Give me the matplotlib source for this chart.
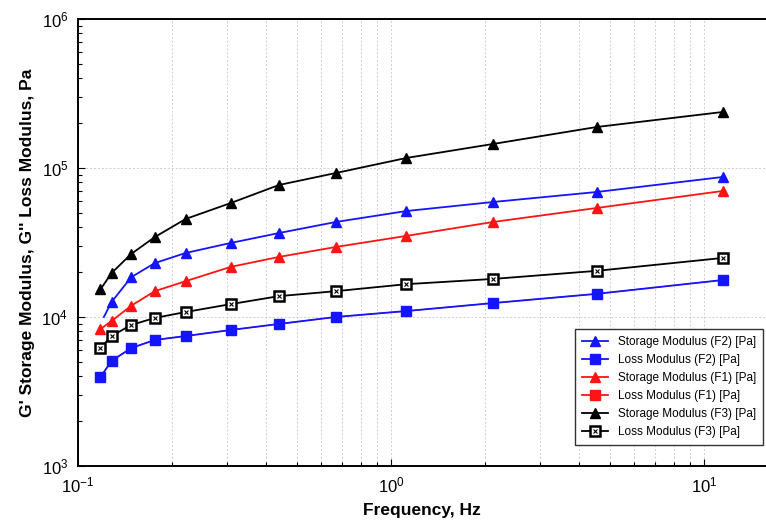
import numpy as np
import matplotlib.pyplot as plt
from matplotlib.ticker import LogLocator, NullFormatter
from matplotlib.legend_handler import HandlerTuple

plt.rcParams['font.family'] = ['Liberation Sans', 'DejaVu Sans']

# frequency points (Hz)
freq = [0.118, 0.128, 0.148, 0.176, 0.221, 0.308, 0.439, 0.667, 1.12, 2.12, 4.55, 11.5]

# F2 storage starts slightly later, first point has no marker
freq_f2_storage = [0.121, 0.128, 0.148, 0.176, 0.221, 0.308, 0.439, 0.667, 1.12, 2.12, 4.55, 11.5]
storage_f2 = [10000, 12600, 18500, 23000, 26900, 31400, 36600, 43400, 51400, 59100, 69000, 87000]
loss_f2    = [3950, 5070, 6190, 7010, 7450, 8180, 8980, 10000, 10960, 12400, 14300, 17700]
storage_f1 = [8300, 9400, 11900, 14900, 17400, 21700, 25300, 29500, 35000, 43400, 53900, 70100]
loss_f1    = [3950, 5070, 6190, 7010, 7450, 8180, 8980, 10000, 10960, 12400, 14300, 17700]
storage_f3 = [15300, 19700, 26500, 34400, 45500, 58200, 76900, 92500, 116700, 144900, 188400, 237600]
loss_f3    = [6190, 7450, 8840, 9850, 10800, 12200, 13800, 14900, 16600, 18000, 20400, 24900]

labels = ['Storage Modulus (F2) [Pa]', 'Loss Modulus (F2) [Pa]',
          'Storage Modulus (F1) [Pa]', 'Loss Modulus (F1) [Pa]',
          'Storage Modulus (F3) [Pa]', 'Loss Modulus (F3) [Pa]']

blue = '#1414ff'
red  = '#ff1414'

fig = plt.figure(figsize=(7.66, 5.21), dpi=100)
ax = fig.add_axes([0.1018, 0.1056, 0.8982, 0.858])

lw = 1.3
# F1 loss sits underneath F2 loss in the original
ax.plot(freq, loss_f1, color=red, marker='s', ms=5.5, lw=0.8)
h4, = ax.plot([], [], color=red, marker='s', ms=6.5, lw=lw)
h1, = ax.plot(freq_f2_storage, storage_f2, color=blue, marker='^', ms=7, lw=lw,
              markevery=list(range(1, len(storage_f2))))
h2, = ax.plot(freq, loss_f2, color=blue, marker='s', ms=6.5, lw=lw)
h3, = ax.plot(freq, storage_f1, color=red, marker='^', ms=7, lw=lw)
h5, = ax.plot(freq, storage_f3, color='black', marker='^', ms=7, lw=lw)
h6, = ax.plot(freq, loss_f3, color='black', marker='s', ms=7, lw=lw,
              mfc='white', mec='black', mew=1.8)
h6x, = ax.plot(freq, loss_f3, ls='none', marker='x', ms=3, mec='black', mew=0.8)

# legend handle for F2 storage (shows the marker)
h1_leg, = ax.plot([], [], color=blue, marker='^', ms=7, lw=lw)

ax.set_xscale('log')
ax.set_yscale('log')
ax.set_xlim(0.1, 15.8)
ax.set_ylim(1e3, 1e6)

ax.xaxis.set_major_locator(LogLocator(base=10, numticks=10))
ax.xaxis.set_minor_locator(LogLocator(base=10, subs=np.arange(2, 10), numticks=20))
ax.xaxis.set_minor_formatter(NullFormatter())
ax.yaxis.set_minor_locator(LogLocator(base=10, subs=np.arange(2, 10), numticks=20))
ax.yaxis.set_minor_formatter(NullFormatter())

ax.grid(True, which='major', axis='both', color='#cfcfcf', lw=0.7, ls=(0, (2, 2)))
ax.grid(True, which='minor', axis='x', color='#cfcfcf', lw=0.7, ls=(0, (2, 2)))

ax.tick_params(which='both', direction='in', top=False, right=False, width=0.8)
ax.tick_params(which='major', length=5, labelsize=12, pad=7)
ax.tick_params(which='minor', length=3)

ax.spines['right'].set_visible(False)
for s in ['top', 'left', 'bottom']:
    ax.spines[s].set_linewidth(1.4)

ax.set_xlabel('Frequency, Hz', fontsize=12.5, fontweight='bold', labelpad=5)
ax.set_ylabel("G' Storage Modulus, G'' Loss Modulus, Pa", fontsize=12.5, fontweight='bold', labelpad=5)

leg = ax.legend([h1_leg, h2, h3, h4, h5, (h6, h6x)], labels,
                handler_map={tuple: HandlerTuple(ndivide=1, pad=0)},
                loc='lower right', bbox_to_anchor=(0.996, 0.047), borderaxespad=0,
                fontsize=8.5, handlelength=2.2, numpoints=1, fancybox=False,
                framealpha=1, edgecolor='#333333', labelspacing=0.5,
                borderpad=0.6, handletextpad=0.8)
leg.get_frame().set_linewidth(1.0)

fig.savefig('out.png', dpi=100)
